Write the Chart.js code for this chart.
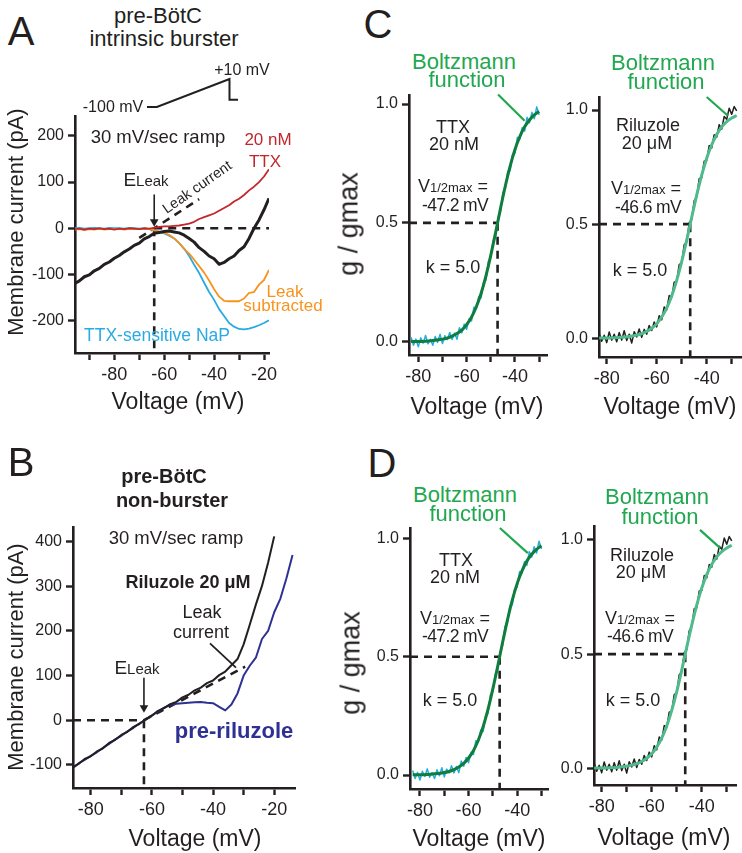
<!DOCTYPE html>
<html>
<head>
<meta charset="utf-8">
<title>NaP currents in pre-BötC neurons</title>
<script src="https://cdn.jsdelivr.net/npm/chart.js@4.4.1/dist/chart.umd.min.js"></script>
<style>
  body { margin: 0; background: #fff; }
  #fig { position: relative; width: 742px; height: 853px; overflow: hidden; background: #fff;
         font-family: 'Liberation Sans', Arial, Helvetica, sans-serif; color: #231f20; }
  canvas { position: absolute; }
  .t { position: absolute; transform: translate(-50%, -50%); white-space: nowrap; line-height: 1; }
  .rot { transform: translate(-50%, -50%) rotate(-90deg); }
  .big { font-size: 40px; }
  .green { color: #1fa84f; font-size: 22px; }
  .ann { font-size: 18px; }
  .sub { font-size: 13px; }
</style>
</head>
<body>
<div id="fig">
  <canvas id="protoA"></canvas>
  <canvas id="chartA"></canvas>
  <canvas id="chartB"></canvas>
  <canvas id="chartC1"></canvas>
  <canvas id="chartC2"></canvas>
  <canvas id="chartD1"></canvas>
  <canvas id="chartD2"></canvas>

  <!-- panel A -->
  <div class="t big" style="left:21px;top:31px">A</div>
  <div class="t" style="left:158px;top:16px;font-size:22px">pre-BötC</div>
  <div class="t" style="left:164px;top:39px;font-size:22px">intrinsic burster</div>
  <div class="t" style="left:242px;top:70px;font-size:16px">+10 mV</div>
  <div class="t" style="left:113px;top:107px;font-size:16px">-100 mV</div>
  <div class="t" style="left:158px;top:137px;font-size:18.5px">30 mV/sec ramp</div>
  <div class="t" style="left:268px;top:139px;font-size:17px;color:#c1272d">20 nM</div>
  <div class="t" style="left:265px;top:161px;font-size:17px;color:#c1272d">TTX</div>
  <div class="t" style="left:146px;top:179px"><span style="font-size:19px">E</span><span style="font-size:15px">Leak</span></div>
  <div class="t" style="left:197px;top:187px;font-size:14.5px;transform:translate(-50%,-50%) rotate(-35deg)">Leak current</div>
  <div class="t" style="left:285px;top:291px;font-size:17px;color:#f7931e">Leak</div>
  <div class="t" style="left:283px;top:305px;font-size:17px;color:#f7931e">subtracted</div>
  <div class="t" style="left:157px;top:336px;font-size:17.5px;color:#29abe2">TTX-sensitive NaP</div>
  <div class="t rot" style="left:16px;top:222px;font-size:22px">Membrane current (pA)</div>
  <div class="t" style="left:178px;top:401px;font-size:23px">Voltage (mV)</div>

  <!-- panel B -->
  <div class="t big" style="left:21px;top:462px">B</div>
  <div class="t" style="left:164px;top:476px;font-size:20px;font-weight:bold">pre-BötC</div>
  <div class="t" style="left:172px;top:500px;font-size:20px;font-weight:bold">non-burster</div>
  <div class="t" style="left:176px;top:538px;font-size:18.5px">30 mV/sec ramp</div>
  <div class="t" style="left:188px;top:582px;font-size:18px;font-weight:bold">Riluzole 20 μM</div>
  <div class="t ann" style="left:202px;top:612px">Leak</div>
  <div class="t ann" style="left:201px;top:632px">current</div>
  <div class="t" style="left:137px;top:667px"><span style="font-size:19px">E</span><span style="font-size:15px">Leak</span></div>
  <div class="t" style="left:234px;top:731px;font-size:22px;font-weight:bold;color:#2e3192">pre-riluzole</div>
  <div class="t rot" style="left:16px;top:657px;font-size:22px">Membrane current (pA)</div>
  <div class="t" style="left:195px;top:838px;font-size:23px">Voltage (mV)</div>

  <!-- panel C -->
  <div class="t big" style="left:378px;top:24px">C</div>
  <div class="t green" style="left:464px;top:62px">Boltzmann</div>
  <div class="t green" style="left:467px;top:80px">function</div>
  <div class="t ann" style="left:453px;top:127px">TTX</div>
  <div class="t ann" style="left:454px;top:144px">20 nM</div>
  <div class="t" style="left:453px;top:186px"><span style="font-size:18px">V</span><span class="sub">1/2max</span><span style="font-size:18px"> =</span></div>
  <div class="t" style="left:455px;top:206px;font-size:17.5px;letter-spacing:-0.6px">-47.2 mV</div>
  <div class="t ann" style="left:453px;top:267px">k = 5.0</div>
  <div class="t rot" style="left:349px;top:224px;font-size:27px">g / gmax</div>
  <div class="t" style="left:477px;top:406px;font-size:23px">Voltage (mV)</div>

  <div class="t green" style="left:663px;top:63px">Boltzmann</div>
  <div class="t green" style="left:666px;top:82px">function</div>
  <div class="t ann" style="left:648px;top:125px">Riluzole</div>
  <div class="t ann" style="left:647px;top:143px">20 μM</div>
  <div class="t" style="left:646px;top:188px"><span style="font-size:18px">V</span><span class="sub">1/2max</span><span style="font-size:18px"> =</span></div>
  <div class="t" style="left:648px;top:208px;font-size:17.5px;letter-spacing:-0.6px">-46.6 mV</div>
  <div class="t ann" style="left:640px;top:270px">k = 5.0</div>
  <div class="t" style="left:670px;top:406px;font-size:23px">Voltage (mV)</div>

  <!-- panel D -->
  <div class="t big" style="left:382px;top:463px">D</div>
  <div class="t green" style="left:465px;top:495px">Boltzmann</div>
  <div class="t green" style="left:468px;top:514px">function</div>
  <div class="t ann" style="left:456px;top:560px">TTX</div>
  <div class="t ann" style="left:455px;top:577px">20 nM</div>
  <div class="t" style="left:455px;top:618px"><span style="font-size:18px">V</span><span class="sub">1/2max</span><span style="font-size:18px"> =</span></div>
  <div class="t" style="left:455px;top:637px;font-size:17.5px;letter-spacing:-0.6px">-47.2 mV</div>
  <div class="t ann" style="left:450px;top:700px">k = 5.0</div>
  <div class="t rot" style="left:351px;top:663px;font-size:27px">g / gmax</div>
  <div class="t" style="left:479px;top:838px;font-size:23px">Voltage (mV)</div>

  <div class="t green" style="left:657px;top:497px">Boltzmann</div>
  <div class="t green" style="left:660px;top:517px">function</div>
  <div class="t ann" style="left:642px;top:555px">Riluzole</div>
  <div class="t ann" style="left:641px;top:572px">20 μM</div>
  <div class="t" style="left:640px;top:618px"><span style="font-size:18px">V</span><span class="sub">1/2max</span><span style="font-size:18px"> =</span></div>
  <div class="t" style="left:640px;top:637px;font-size:17.5px;letter-spacing:-0.6px">-46.6 mV</div>
  <div class="t ann" style="left:633px;top:700px">k = 5.0</div>
  <div class="t" style="left:664px;top:837px;font-size:23px">Voltage (mV)</div>
</div>

<script>
// ---- panel A: ramp currents of an intrinsic burster (mV, pA) ----
const vA = [-96, -94, -92, -90, -88, -86, -84, -82, -80, -78, -76, -74, -72, -70, -68, -66, -64, -62, -60, -58,
            -56, -54, -52, -50, -48, -46, -44, -42, -40, -38, -36, -34, -32, -30, -28, -26, -24, -22, -20, -18];
const controlA = [-120, -114, -105, -101, -92, -87, -78, -73, -65, -59, -51, -45, -37, -32, -23, -18, -11, -9, -7, -6,
                  -8, -10, -15, -22, -30, -42, -50, -60, -66, -78, -74, -66, -60, -48, -40, -22, 0, 18, 40, 65];
const ttxA = [-2, -1, -3, -1, -2, 0, -2, -1, -3, -1, -2, 0, -1, -2, 0, -1, 1, 3, 4, 4,
              5, 6, 8, 10, 14, 20, 24, 28, 32, 38, 44, 50, 58, 64, 72, 82, 90, 100, 112, 128];
const leakSubA = [-3, -2, -4, -2, -3, -1, -3, -2, -2, -1, -3, -1, -2, -2, -1, -2, -4, -7, -10, -14,
                  -22, -32, -45, -55, -68, -82, -96, -113, -132, -148, -157, -158, -158, -158, -152, -140, -138, -122, -112, -90];
const napA = [0, 1, -1, 0, 1, 0, -1, 1, 0, 0, -1, 1, 0, -1, 0, -2, -5, -8, -11, -16,
              -22, -32, -44, -60, -79, -97, -118, -138, -155, -175, -190, -205, -213, -218, -219, -217, -214, -210, -205, -199];
const leakVA = [-70, -46];
const leakIA = [-21, 63];
const eLeakA = -64;
const xTicksA = [-90, -80, -70, -60, -50, -40, -30, -20];
const yTicksA = [-200, -100, 0, 100, 200];
// ramp protocol inset (s, mV)
const protoT = [0, 0.5, 4.17, 4.17, 4.6];
const protoV = [-100, -100, 10, -72, -72];

// ---- panel B: non-burster before / in riluzole ----
const vB = [-86, -84, -82, -80, -78, -76, -74, -72, -70, -68, -66, -64, -62, -60, -58, -56, -54, -52, -50,
            -48, -46, -44, -42, -40, -38, -36, -34, -32, -30, -28, -26, -24, -22, -20, -18, -16, -14];
const riluzoleB = [-106, -98, -87, -81, -70, -63, -51, -44, -33, -26, -15, -8, 2, 10, 21, 27, 36, 41, 51,
                   57, 67, 73, 83, 89, 101, 109, 123, 137, 170, 214, 259, 301, 353, 412];
const preRilB = [-108, -97, -89, -80, -72, -62, -53, -43, -35, -25, -17, -7, 1, 11, 19, 28, 34, 37, 38,
                 39, 40, 41, 39, 38, 30, 22, 35, 60, 100, 122, 140, 182, 200, 242, 272, 318, 370];
const leakVB = [-62.6, -29.5];
const leakIB = [0, 120];
const pointerVB = [-41, -32.5];
const pointerIB = [172, 118];
const eLeakB = -62.6;
const xTicksB = [-80, -70, -60, -50, -40, -30, -20];
const yTicksB = [-100, 0, 100, 200, 300, 400];

// ---- panels C/D: normalised conductance g/gmax ----
const vTTX = [-83, -82, -81, -80, -79, -78, -77, -76, -75, -74, -73, -72, -71, -70, -69, -68, -67, -66, -65, -64,
              -63, -62, -61, -60, -59, -58, -57, -56, -55, -54, -53, -52, -51, -50, -49, -48, -47, -46, -45, -44,
              -43, -42, -41, -40, -39, -38, -37, -36, -35, -34, -33, -32, -31, -30];
const gTTX = [.019, -.015, .011, -.021, .016, -.006, .026, -.009, .010, -.015, .022, -.003, .031, -.008, .025, .009, .039, .009, .036, .010,
              .059, .037, .074, .052, .096, .087, .145, .139, .190, .184, .251, .259, .339, .354, .427, .438, .520, .546, .628, .643,
              .716, .719, .788, .793, .860, .853, .901, .886, .944, .921, .965, .938, .988, .955];
const vRil = [-83, -82, -81, -80, -79, -78, -77, -76, -75, -74, -73, -72, -71, -70, -69, -68, -67, -66, -65, -64,
              -63, -62, -61, -60, -59, -58, -57, -56, -55, -54, -53, -52, -51, -50, -49, -48, -47, -46, -45, -44,
              -43, -42, -41, -40, -39, -38, -37, -36, -35, -34, -33, -32, -31, -30, -29, -28];
const gRil = [.021, -.013, .013, -.019, .028, -.008, .018, -.015, .025, -.008, .033, -.010, .018, -.021, .029, .006, .041, .004, .039, .018,
              .056, .034, .071, .050, .099, .081, .137, .124, .187, .179, .246, .250, .323, .330, .410, .422, .506, .520, .603, .619,
              .699, .703, .776, .779, .844, .834, .892, .881, .936, .916, .972, .959, 1.008, .981, 1.015, .996];
const fitVTTX = [-83, -80, -77, -74, -71, -68, -66, -64, -62, -60, -58, -56, -54, -52, -50, -48, -46, -44, -42, -40, -38, -36, -34, -32, -30];
const fitTTX = [.001, .001, .002, .005, .009, .015, .023, .034, .049, .072, .103, .147, .204, .277, .364, .460, .560, .655, .739, .809, .863, .904, .933, .954, .969];
const fitVRil = [-83, -80, -77, -74, -71, -68, -66, -64, -62, -60, -58, -56, -54, -52, -50, -48, -46, -44, -42, -40, -38, -36, -34, -32, -30, -28];
const fitRil = [.001, .001, .002, .004, .008, .014, .020, .030, .044, .064, .093, .132, .185, .254, .336, .430, .530, .627, .715, .789, .848, .893, .926, .949, .965, .976];
const vHalfTTX = -47.2;
const vHalfRil = -46.6;
const xTicksG = [-80, -70, -60, -50, -40, -30];
const yTicksG = [0, 0.5, 1];

const INK = '#231f20';
const CYAN = '#29abe2', RED = '#c1272d', ORANGE = '#f7931e', BLUE = '#2e3192';
const GREEN_TXT = '#1fa84f', GREEN_DK = '#0f7d3c', GREEN_LT = '#4fba8c';
const Y_W = 60, X_H = 34, PAD = 16;

Chart.defaults.font.family = "'Liberation Sans', Arial, Helvetica, sans-serif";
Chart.defaults.color = INK;

function pts(xs, ys) {
    return ys.map((y, i) => ({ x: xs[i], y: y }));
}

function line(data, color, width, extra) {
    return Object.assign({
        data: data, borderColor: color, borderWidth: width,
        pointRadius: 0, fill: false, tension: 0, borderJoinStyle: 'round'
    }, extra || {});
}

function dashed(data) {
    return line(data, INK, 2.6, { borderDash: [8, 6], borderJoinStyle: 'miter' });
}

function arrow(x, yTop, yHead) {
    return line([{ x: x, y: yTop }, { x: x, y: yHead }], INK, 1.6, {
        pointRadius: [0, 5], pointStyle: 'triangle', pointRotation: 180,
        pointBackgroundColor: INK, pointBorderColor: INK, pointBorderWidth: 0, clip: false
    });
}

function flat(s) {
    s.paddingLeft = 0; s.paddingRight = 0; s.paddingTop = 0; s.paddingBottom = 0;
}

function axis(min, max, ticks, label, size) {
    return {
        type: 'linear', min: min, max: max,
        afterBuildTicks: s => { s.ticks = ticks.map(v => ({ value: v })); },
        ticks: { callback: label, font: { size: size }, color: INK, padding: 4, autoSkip: false, maxRotation: 0, minRotation: 0 },
        grid: { drawOnChartArea: false, drawTicks: true, tickLength: 7, tickWidth: 2.4, tickColor: INK },
        border: { display: true, color: INK, width: 2.6 }
    };
}

const every20 = v => (v % 20 === 0 ? String(v) : '');
const plain = v => String(v);
const oneDec = v => v.toFixed(1);

function makeChart(id, area, xAxis, yAxis, datasets) {
    const cv = document.getElementById(id);
    const w = area.r - area.l + Y_W + 2 * PAD;
    const h = area.b - area.t + X_H + 2 * PAD;
    cv.width = w; cv.height = h;
    cv.style.width = w + 'px'; cv.style.height = h + 'px';
    cv.style.left = (area.l - Y_W - PAD) + 'px';
    cv.style.top = (area.t - PAD) + 'px';
    xAxis.position = 'bottom';
    yAxis.position = 'left';
    xAxis.afterFit = s => { s.height = X_H; flat(s); };
    yAxis.afterFit = s => { s.width = Y_W; flat(s); };
    return new Chart(cv, {
        type: 'line',
        data: { datasets: datasets },
        options: {
            responsive: false, animation: false, events: [],
            layout: { padding: PAD },
            plugins: { legend: { display: false }, tooltip: { enabled: false } },
            scales: { x: xAxis, y: yAxis }
        }
    });
}

// A
makeChart('chartA', { l: 75, t: 116, r: 269, b: 353 },
    axis(-95.75, -18, xTicksA, every20, 18),
    axis(-270, 243, yTicksA, plain, 16),
    [
        arrow(eLeakA, 72, 14),
        line(pts(vA, controlA), INK, 3),
        line(pts(vA, ttxA), RED, 1.8),
        line(pts(vA, leakSubA), ORANGE, 1.8),
        line(pts(vA, napA), CYAN, 1.8),
        dashed(pts(leakVA, leakIA)),
        dashed([{ x: eLeakA, y: 0 }, { x: -18, y: 0 }]),
        dashed([{ x: eLeakA, y: 0 }, { x: eLeakA, y: -270 }])
    ]);

// ramp protocol inset above A
(function () {
    const cv = document.getElementById('protoA');
    cv.width = 99; cv.height = 36;
    cv.style.width = '99px'; cv.style.height = '36px';
    cv.style.left = '143px'; cv.style.top = '75px';
    new Chart(cv, {
        type: 'line',
        data: { datasets: [line(pts(protoT, protoV), INK, 2, { clip: false, borderJoinStyle: 'miter' })] },
        options: {
            responsive: false, animation: false, events: [],
            layout: { padding: 4 },
            plugins: { legend: { display: false }, tooltip: { enabled: false } },
            scales: {
                x: { type: 'linear', min: 0, max: 4.6, display: false },
                y: { type: 'linear', min: -100, max: 10, display: false }
            }
        }
    });
})();

// B
makeChart('chartB', { l: 73, t: 527, r: 295, b: 788 },
    axis(-85.8, -13.2, xTicksB, every20, 18),
    axis(-152, 433, yTicksB, plain, 16),
    [
        arrow(eLeakB, 94, 28),
        line(pts(vB, riluzoleB), INK, 2),
        line(pts(vB, preRilB), BLUE, 2),
        dashed(pts(leakVB, leakIB)),
        line(pts(pointerVB, pointerIB), INK, 1.8, { clip: false }),
        dashed([{ x: -85.8, y: 0 }, { x: eLeakB, y: 0 }]),
        dashed([{ x: eLeakB, y: 0 }, { x: eLeakB, y: -152 }])
    ]);

function gPanel(id, area, xr, yr, vs, gs, fv, fg, vHalf, fitColor, traceColor, ptr) {
    return makeChart(id, area,
        axis(xr[0], xr[1], xTicksG, every20, 18),
        axis(yr[0], yr[1], yTicksG, oneDec, 16),
        [
            line(pts(ptr[0], ptr[1]), GREEN_TXT, 2.2, { clip: false }),
            line(pts(fv, fg), fitColor, 3, { cubicInterpolationMode: 'monotone' }),
            line(pts(vs, gs), traceColor, 1.5),
            dashed([{ x: xr[0], y: 0.5 }, { x: vHalf, y: 0.5 }]),
            dashed([{ x: vHalf, y: 0.5 }, { x: vHalf, y: yr[0] }])
        ]);
}

gPanel('chartC1', { l: 409, t: 95, r: 547, b: 355 }, [-83.85, -26.75], [-0.056, 1.038],
    vTTX, gTTX, fitVTTX, fitTTX, vHalfTTX, GREEN_DK, CYAN, [[-47, -36], [1.04, 0.93]]);
gPanel('chartC2', { l: 599, t: 97, r: 741, b: 357 }, [-83.08, -26.28], [-0.082, 1.057],
    vRil, gRil, fitVRil, fitRil, vHalfRil, GREEN_LT, INK, [[-40, -31.5], [1.057, 0.975]]);
gPanel('chartD1', { l: 410, t: 528, r: 548, b: 789 }, [-84.1, -27.3], [-0.059, 1.044],
    vTTX, gTTX, fitVTTX, fitTTX, vHalfTTX, GREEN_DK, CYAN, [[-47.1, -35.6], [1.044, 0.938]]);
gPanel('chartD2', { l: 594, t: 526, r: 736, b: 785 }, [-83.08, -26.3], [-0.073, 1.061],
    vRil, gRil, fitVRil, fitRil, vHalfRil, GREEN_LT, INK, [[-40.7, -32.7], [1.044, 0.965]]);
</script>
</body>
</html>
